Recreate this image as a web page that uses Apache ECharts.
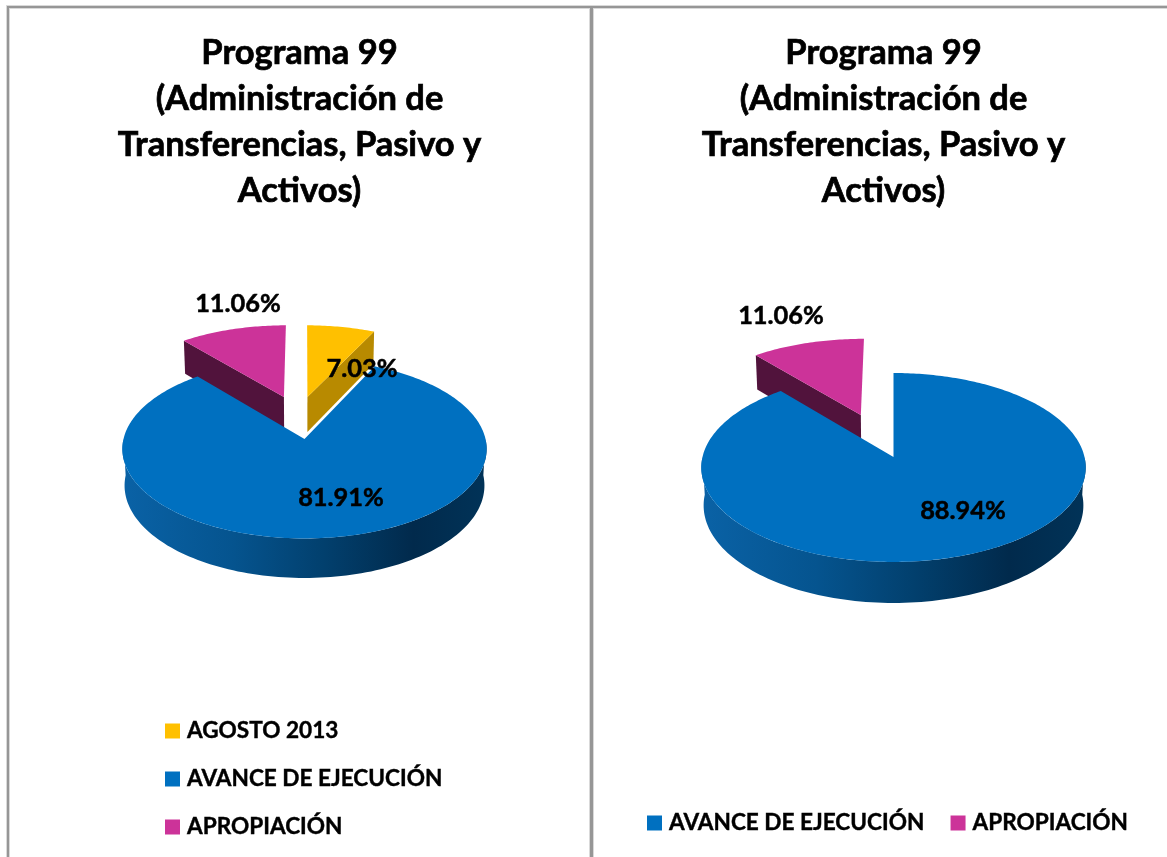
<!DOCTYPE html>
<html><head><meta charset="utf-8">
<style>html,body{margin:0;padding:0;background:#fff}#c{width:1167px;height:857px}</style>
<script src="https://cdn.jsdelivr.net/npm/echarts@6/dist/echarts.min.js"></script>
</head><body><div id="c"></div>
<script>
var titleText = "Programa 99\n(Administración de\nTransferencias, Pasivo y\nActivos)";
var leftNames = ["AGOSTO 2013", "AVANCE DE EJECUCIÓN", "APROPIACIÓN"];
var leftValues = [7.03, 81.91, 11.06];
var rightNames = ["AVANCE DE EJECUCIÓN", "APROPIACIÓN"];
var rightValues = [88.94, 11.06];
var colours = {
  "AGOSTO 2013": {top:"#FFC000", wall:"#B88A00"},
  "AVANCE DE EJECUCIÓN": {top:"#0070C0", wall:null},
  "APROPIACIÓN": {top:"#CC3399", wall:"#51133C"}
};
var FONT = "Lato";
var K = 0.111, M = 0.012;

function proj(p, u, v, base){
  var s = 1/(1 + K*v + (base?M:0));
  return [p.cx + p.R*u*s, p.cy - p.Ry*v*s + (base?p.D*s:0)];
}
var blueWall = new echarts.graphic.LinearGradient(0,0,1,0,[
  {offset:0,color:"#0A62A6"},{offset:.3,color:"#05548F"},{offset:.55,color:"#02406E"},
  {offset:.8,color:"#012A4C"},{offset:1,color:"#013358"}]);

function sliceSeries(pie, names, values, name, i, explode){
  var start = 0; for (var j=0;j<i;j++) start += values[j];
  var end = start + values[i];
  return {
    type:"custom", name:name, coordinateSystem:"none", silent:true,
    z: explode ? 2 : 3,
    itemStyle:{color:colours[name].top},
    data:[[values[i], start, end]],
    renderItem:function(params, api){
      var a0 = api.value(1)/100*2*Math.PI, a1 = api.value(2)/100*2*Math.PI;
      var du = explode?explode[0]:0, dv = explode?explode[1]:0;
      var n = Math.max(8, Math.round((a1-a0)*60));
      var top=[], children=[];
      var apexT = proj(pie,du,dv,false), apexB = proj(pie,du,dv,true);
      var pt = function(a,b){return proj(pie,du+Math.sin(a),dv+Math.cos(a),b);};
      for (var q=0;q<=n;q++) top.push(pt(a0+(a1-a0)*q/n,false));
      var ring = [apexT].concat(top);
      var wallCol = colours[name].wall;
      if (explode){
        var edge = (a0 < Math.PI) ? a1 : a0;
        children.push({type:"polygon",shape:{points:[apexT,pt(edge,false),pt(edge,true),apexB]},
          style:{fill:wallCol}});
      } else {
        var from = Math.max(a0, Math.PI*0.5), to = Math.min(a1, Math.PI*1.5), up=[], low=[];
        for (var w=0;w<=120;w++){ var a=from+(to-from)*w/120; up.push(pt(a,false)); low.unshift(pt(a,true)); }
        children.push({type:"polygon",shape:{points:up.concat(low)},style:{fill:blueWall}});
      }
      children.push({type:"polygon",shape:{points:ring},style:{fill:colours[name].top}});
      return {type:"group",children:children};
    }
  };
}
function labelSeries(id, values, positions){
  return {
    type:"custom", name:id, coordinateSystem:"none", silent:true, z:10,
    data: values.map(function(v,i){return [v, positions[i][0], positions[i][1]];}),
    renderItem:function(params, api){
      return {type:"text",style:{x:api.value(1),y:api.value(2),text:api.value(0).toFixed(2)+"%",
        fill:"#000",stroke:"#000",lineWidth:.5,font:"bold 25.4px "+FONT,textAlign:"center",textVerticalAlign:"middle"}};
    }
  };
}
var pieL = {cx:304.5, cy:439, R:181, Ry:88.4, D:36.8};
var pieR = {cx:893.5, cy:457, R:191, Ry:93.3, D:38.2};
var series = [];
leftNames.forEach(function(n,i){
  series.push(sliceSeries(pieL,leftNames,leftValues,n,i,[[.017,.5],null,[-.12,.5]][i]));
});
rightNames.forEach(function(n,i){
  series.push(sliceSeries(pieR,rightNames,rightValues,n,i,[null,[-.18,.474]][i]));
});
series.push(labelSeries("labelsLeft",leftValues,[[362,369],[341,498],[238,304]]));
series.push(labelSeries("labelsRight",rightValues,[[963,511],[781,316]]));

var legendText = {fontFamily:FONT,fontWeight:"bold",fontSize:22.6,color:"#000",lineHeight:24,padding:[0,0,0,2],textBorderColor:"#000",textBorderWidth:.4};
var titleStyle = {fontFamily:FONT,fontWeight:"bold",fontSize:34.5,color:"#000",lineHeight:46,textBorderColor:"#000",textBorderWidth:.7};
var chart = echarts.init(document.getElementById("c"),null,{renderer:"canvas"});
chart.setOption({
  animation:false, backgroundColor:"#fff",
  title:[
    {text:titleText,left:294.5,top:25,textAlign:"center",textStyle:titleStyle},
    {text:titleText,left:878.5,top:25,textAlign:"center",textStyle:titleStyle}
  ],
  legend:[
    {data:leftNames,orient:"vertical",left:165,top:719,itemWidth:15,itemHeight:15,itemGap:24,selectedMode:false,icon:"rect",textStyle:legendText,padding:0},
    {data:rightNames,orient:"horizontal",left:647,top:811,itemWidth:15,itemHeight:15,itemGap:26,selectedMode:false,icon:"rect",textStyle:legendText,padding:0}
  ],
  graphic:[
    {type:"rect",z:-2,shape:{x:6,y:5,width:1161,height:4},style:{fill:"#D9D9D9"}},
    {type:"rect",z:-2,shape:{x:6,y:5,width:4,height:852},style:{fill:"#D9D9D9"}},
    {type:"rect",z:-2,shape:{x:589,y:5,width:5,height:852},style:{fill:"#D9D9D9"}},
    {type:"rect",z:-1,shape:{x:7,y:6,width:1160,height:2},style:{fill:"#969696"}},
    {type:"rect",z:-1,shape:{x:7,y:6,width:2,height:851},style:{fill:"#969696"}},
    {type:"rect",z:-1,shape:{x:590,y:6,width:3,height:851},style:{fill:"#969696"}}
  ],
  series:series
});
</script></body></html>
